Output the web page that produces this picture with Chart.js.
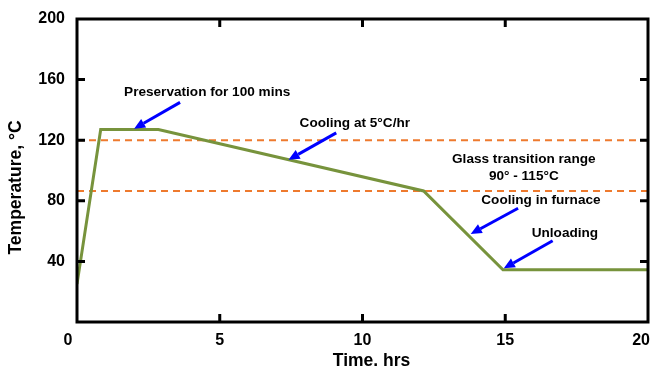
<!DOCTYPE html>
<html><head><meta charset="utf-8">
<script src="https://cdn.jsdelivr.net/npm/chart.js@4"></script>
<style>html,body{margin:0;padding:0;background:#fff}#wrap{width:652px;height:369px}</style>
</head><body><div id="wrap"><canvas id="c" width="652" height="369"></canvas></div>
<script>
const timeHrs = [0, 0.83, 2.85, 12.14, 14.92, 20];
const temperature = [25, 127, 127, 86.5, 34.5, 34.5];
const glassUpper = 120;
const glassLower = 86.5;
const xTicks = [0, 5, 10, 15, 20];
const yTicks = [40, 80, 120, 160, 200];
const xTitle = 'Time. hrs';
const yTitle = 'Temperature, °C';
const labels = [
  {text: ["Preservation for 100 mins"], at: [4.56, 151.5], from: [3.61, 145], to: [2.0, 127.6]},
  {text: ["Cooling at 5°C/hr"], at: [9.73, 131], from: [9.08, 124.8], to: [7.41, 107.1]},
  {text: ["Glass transition range", "90° - 115°C"], at: [15.65, 107.1]},
  {text: ["Cooling in furnace"], at: [16.25, 80.6], from: [15.45, 75.1], to: [13.79, 58.1]},
  {text: ["Unloading"], at: [17.09, 58.7], from: [16.66, 53.6], to: [14.95, 35.4]}
];

const FONT = '"Liberation Sans", Arial, sans-serif';

const framePlugin = {
  id: 'frame',
  afterDatasetsDraw(chart) {
    const {ctx, chartArea: a, scales: {x, y}} = chart;
    ctx.save();
    // annotations
    ctx.font = 'bold 13.6px ' + FONT;
    ctx.fillStyle = '#000';
    ctx.textAlign = 'center';
    ctx.textBaseline = 'middle';
    labels.forEach(l => {
      const px = x.getPixelForValue(l.at[0]);
      const py = y.getPixelForValue(l.at[1]);
      l.text.forEach((t, i) => ctx.fillText(t, px, py + i * 17));
      if (l.from) {
        const x1 = x.getPixelForValue(l.from[0]), y1 = y.getPixelForValue(l.from[1]);
        const x2 = x.getPixelForValue(l.to[0]), y2 = y.getPixelForValue(l.to[1]);
        const ang = Math.atan2(y2 - y1, x2 - x1);
        const hl = 11, hw = 5;
        const bx = x2 - hl * Math.cos(ang), by = y2 - hl * Math.sin(ang);
        ctx.strokeStyle = '#0000FF';
        ctx.lineWidth = 3;
        ctx.beginPath(); ctx.moveTo(x1, y1); ctx.lineTo(bx, by); ctx.stroke();
        ctx.fillStyle = '#0000FF';
        ctx.beginPath();
        ctx.moveTo(x2, y2);
        ctx.lineTo(bx + hw * Math.sin(ang), by - hw * Math.cos(ang));
        ctx.lineTo(bx - hw * Math.sin(ang), by + hw * Math.cos(ang));
        ctx.closePath(); ctx.fill();
        ctx.fillStyle = '#000';
      }
    });
    // frame
    ctx.strokeStyle = '#000';
    ctx.lineWidth = 3;
    ctx.strokeRect(a.left, a.top, a.right - a.left, a.bottom - a.top);
    ctx.beginPath();
    const tl = 8;
    yTicks.forEach(v => {
      if (v <= 0 || v >= 200) return;
      const py = y.getPixelForValue(v);
      ctx.moveTo(a.left, py); ctx.lineTo(a.left + tl, py);
      ctx.moveTo(a.right, py); ctx.lineTo(a.right - tl, py);
    });
    xTicks.forEach(v => {
      if (v <= 0 || v >= 20) return;
      const px = x.getPixelForValue(v);
      ctx.moveTo(px, a.bottom); ctx.lineTo(px, a.bottom - tl);
      ctx.moveTo(px, a.top); ctx.lineTo(px, a.top + tl);
    });
    ctx.stroke();
    // x tick labels
    ctx.fillStyle = '#000';
    ctx.font = 'bold 16px ' + FONT;
    ctx.textBaseline = 'middle';
    xTicks.forEach((v, i) => {
      let px = x.getPixelForValue(v);
      ctx.textAlign = 'center';
      if (i === 0) px -= 9;
      if (i === xTicks.length - 1) { ctx.textAlign = 'right'; px += 2; }
      ctx.fillText(String(v), px, a.bottom + 19);
    });
    // axis titles
    ctx.font = 'bold 17.5px ' + FONT;
    ctx.textAlign = 'center';
    ctx.fillText(xTitle, (a.left + a.right) / 2 + 9, a.bottom + 39);
    ctx.translate(16, (a.top + a.bottom) / 2 + 17);
    ctx.rotate(-Math.PI / 2);
    ctx.fillText(yTitle, 0, 0);
    ctx.restore();
  }
};

new Chart(document.getElementById('c'), {
  type: 'scatter',
  data: {
    datasets: [
      {data: timeHrs.map((t, i) => ({x: t, y: temperature[i]})), showLine: true, borderColor: '#77933C', borderWidth: 3, pointRadius: 0, order: 1},
      {data: [{x: 0, y: glassUpper}, {x: 20, y: glassUpper}], showLine: true, borderColor: '#EE7A2E', borderWidth: 2, borderDash: [7, 5], pointRadius: 0, order: 2},
      {data: [{x: 0, y: glassLower}, {x: 20, y: glassLower}], showLine: true, borderColor: '#EE7A2E', borderWidth: 2, borderDash: [7, 5], pointRadius: 0, order: 2}
    ]
  },
  options: {
    responsive: false,
    animation: false,
    events: [],
    layout: {padding: {top: 19, right: 4, left: 0, bottom: 0}},
    plugins: {legend: {display: false}, tooltip: {enabled: false}},
    scales: {
      x: {
        type: 'linear', min: 0, max: 20,
        afterBuildTicks: s => { s.ticks = xTicks.map(v => ({value: v})); },
        afterFit: s => { s.height = 47; s.paddingLeft = 0; s.paddingRight = 0; },
        grid: {display: false}, border: {display: false},
        ticks: {display: false}
      },
      y: {
        type: 'linear', min: 0, max: 200,
        afterBuildTicks: s => { s.ticks = yTicks.map(v => ({value: v})); },
        afterFit: s => { s.width = 77; },
        grid: {display: false}, border: {display: false},
        ticks: {color: '#000', font: {family: FONT, size: 16, weight: 'bold'}, padding: 4}
      }
    }
  },
  plugins: [framePlugin]
});
</script></body></html>
